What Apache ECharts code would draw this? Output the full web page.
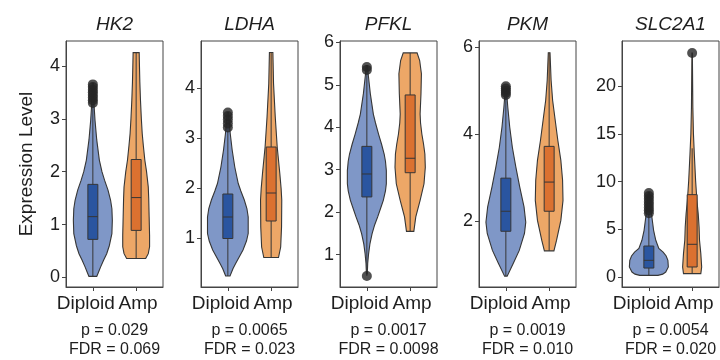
<!DOCTYPE html>
<html>
<head>
<meta charset="utf-8">
<script src="https://cdn.jsdelivr.net/npm/echarts@6/dist/echarts.min.js"></script>
<style>html,body{margin:0;padding:0;background:#fff}#c{width:720px;height:360px}</style>
</head>
<body>
<div id="c"></div>
<script>
// ---------- data ----------
const genes = ['HK2', 'LDHA', 'PFKL', 'PKM', 'SLC2A1'];
const groups = ['Diploid', 'Amp'];
const pTexts = ['p = 0.029', 'p = 0.0065', 'p = 0.0017', 'p = 0.0019', 'p = 0.0054'];
const fdrTexts = ['FDR = 0.069', 'FDR = 0.023', 'FDR = 0.0098', 'FDR = 0.010', 'FDR = 0.020'];
const yTicks = [[0, 1, 2, 3, 4], [1, 2, 3, 4], [1, 2, 3, 4, 5, 6], [2, 4, 6], [0, 5, 10, 15, 20]];
const yMins = [-0.18, 0.03, 0.24, 0.49, -1.05];
const yMaxs = [4.47, 4.95, 6.03, 6.14, 24.76];

// violin density profiles: [value, half-width (in category units)]
const hk2Diploid = [[0.02,0.09],[0.1,0.13],[0.2,0.18],[0.33,0.25],[0.45,0.32],[0.6,0.38],[0.83,0.44],[1.08,0.45],[1.3,0.44],[1.46,0.41],[1.65,0.35],[1.84,0.27],[2.0,0.21],[2.22,0.15],[2.6,0.09],[2.97,0.05],[3.23,0.03],[3.67,0.015]];
const hk2Amp = [[0.36,0.22],[0.45,0.28],[0.58,0.31],[0.8,0.31],[1.15,0.30],[1.5,0.29],[1.71,0.28],[2.0,0.24],[2.22,0.2],[2.5,0.165],[2.72,0.14],[3.0,0.12],[3.35,0.1],[3.7,0.085],[3.98,0.077],[4.25,0.07]];
const ldhaDiploid = [[0.25,0.05],[0.4,0.12],[0.5,0.18],[0.77,0.35],[0.95,0.43],[1.1,0.47],[1.43,0.47],[1.6,0.44],[1.77,0.38],[1.95,0.3],[2.1,0.24],[2.43,0.16],[2.77,0.1],[3.1,0.055],[3.3,0.035],[3.52,0.015]];
const ldhaAmp = [[0.62,0.17],[0.83,0.22],[1.23,0.24],[1.77,0.245],[2.0,0.23],[2.3,0.2],[2.83,0.14],[3.43,0.095],[4.1,0.055],[4.72,0.04]];
const pfklDiploid = [[0.55,0.01],[0.8,0.02],[1.02,0.04],[1.25,0.07],[1.49,0.12],[1.7,0.18],[1.89,0.25],[2.1,0.32],[2.28,0.38],[2.5,0.43],[2.67,0.45],[2.98,0.45],[3.2,0.43],[3.37,0.4],[3.6,0.34],[3.84,0.27],[4.1,0.2],[4.31,0.15],[4.79,0.08],[5.26,0.03],[5.45,0.015]];
const pfklAmp = [[1.55,0.085],[1.89,0.13],[2.28,0.23],[2.67,0.32],[3.06,0.35],[3.37,0.34],[3.6,0.31],[3.84,0.27],[4.1,0.24],[4.31,0.23],[4.79,0.25],[5.26,0.26],[5.57,0.22],[5.75,0.16]];
const pkmDiploid = [[0.74,0.03],[1.03,0.17],[1.33,0.31],[1.72,0.43],[1.98,0.46],[2.33,0.42],[2.79,0.32],[3.25,0.23],[3.7,0.15],[4.16,0.09],[4.62,0.045],[5.0,0.015]];
const pkmAmp = [[1.32,0.11],[1.56,0.17],[2.02,0.27],[2.48,0.32],[2.94,0.31],[3.4,0.27],[3.86,0.2],[4.32,0.14],[4.78,0.08],[5.24,0.045],[5.87,0.02]];
const slcDiploid = [[0.17,0.21],[0.3,0.32],[0.52,0.39],[1.05,0.45],[1.75,0.44],[2.2,0.4],[2.6,0.33],[3.0,0.23],[3.85,0.16],[4.9,0.11],[6.3,0.07],[7.3,0.045],[8.85,0.015]];
const slcAmp = [[0.35,0.2],[1.05,0.22],[2.45,0.2],[3.85,0.17],[5.24,0.16],[6.64,0.14],[8.0,0.11],[10.1,0.08],[12.9,0.05],[15.0,0.03],[17.8,0.016],[22,0.008],[23.5,0.005]];

// box stats: [whiskerLow, q1, median, q3, whiskerHigh]
const hk2Box = [[0.02,0.72,1.15,1.76,3.28],[0.36,0.89,1.51,2.23,4.25]];
const ldhaBox = [[0.25,1.0,1.43,1.89,3.15],[0.62,1.35,1.91,2.83,4.72]];
const pfklBox = [[0.5,2.36,2.9,3.55,5.3],[1.55,2.93,3.27,4.76,5.75]];
const pkmBox = [[0.74,1.77,2.23,2.99,4.85],[1.32,2.23,2.9,3.72,5.87]];
const slcBox = [[0.17,0.94,1.75,3.25,6.6],[0.35,1.05,3.43,8.64,13.5]];

// outliers per group
const hk2Out = [[3.3,3.35,3.4,3.45,3.5,3.55,3.6,3.65],[]];
const ldhaOut = [[3.22,3.3,3.38,3.45,3.52],[]];
const pfklOut = [[0.5,5.35,5.42],[]];
const pkmOut = [[4.9,4.95,5.0,5.05,5.1],[]];
const slcOut = [[6.7,7.0,7.3,7.6,7.9,8.2,8.5,8.8],[23.5]];

const violins = [[hk2Diploid,hk2Amp],[ldhaDiploid,ldhaAmp],[pfklDiploid,pfklAmp],[pkmDiploid,pkmAmp],[slcDiploid,slcAmp]];
const boxes = [hk2Box, ldhaBox, pfklBox, pkmBox, slcBox];
const outliers = [hk2Out, ldhaOut, pfklOut, pkmOut, slcOut];

// ---------- style / layout ----------
const violinColors = ['#7f97c7', '#eda767'];
const boxColors = ['#2a55a0', '#db7130'];
const edge = '#363636';
const txt = '#1e1e1e';
const FONT = 'Liberation Sans, Arial, sans-serif';
const lefts = [66, 201, 340, 479, 622];
const gTop = 41, gW = 97, gH = 246;

function violinRender(i) {
  return function (params, api) {
    const g = params.dataIndex;
    const prof = violins[i][g];
    const pts = [];
    prof.forEach(p => pts.push(api.coord([g - p[1], p[0]])));
    for (let k = prof.length - 1; k >= 0; k--) pts.push(api.coord([g + prof[k][1], prof[k][0]]));
    return { type: 'polygon', shape: { points: pts }, style: { fill: violinColors[g], stroke: edge, lineWidth: 1.1 } };
  };
}
function boxRender(i) {
  return function (params, api) {
    const g = params.dataIndex;
    const b = boxes[i][g];
    const w = 0.115;
    const lo = api.coord([g, b[0]]), hi = api.coord([g, b[4]]);
    const a = api.coord([g - w, b[3]]), c = api.coord([g + w, b[1]]);
    const m1 = api.coord([g - w, b[2]]), m2 = api.coord([g + w, b[2]]);
    return { type: 'group', children: [
      { type: 'line', shape: { x1: lo[0], y1: lo[1], x2: hi[0], y2: hi[1] }, style: { stroke: edge, lineWidth: 1 } },
      { type: 'rect', shape: { x: a[0], y: a[1], width: c[0] - a[0], height: c[1] - a[1] }, style: { fill: boxColors[g], stroke: edge, lineWidth: 1 } },
      { type: 'line', shape: { x1: m1[0], y1: m1[1], x2: m2[0], y2: m2[1] }, style: { stroke: edge, lineWidth: 1 } }
    ] };
  };
}

const grid = [], xAxis = [], yAxis = [], series = [], graphic = [];
genes.forEach((gene, i) => {
  grid.push({ left: lefts[i], top: gTop, width: gW, height: gH, show: true, borderColor: '#444', borderWidth: 1, backgroundColor: 'transparent' });
  xAxis.push({
    type: 'value', gridIndex: i, min: -0.62, max: 1.62,
    splitLine: { show: false },
    axisLine: { show: true, onZero: false, lineStyle: { color: '#444', width: 1 } },
    axisTick: { show: true, length: 4, lineStyle: { color: '#444' }, customValues: [0, 1] },
    axisLabel: {
      customValues: [0, 1], margin: 7, fontSize: 19, color: txt, fontFamily: FONT,
      formatter: v => v === 0 ? '{d|' + groups[0] + '}' : '{a|' + groups[1] + '}',
      rich: {
        d: { fontSize: 19, color: txt, fontFamily: FONT, padding: [0, 14, 0, 0] },
        a: { fontSize: 19, color: txt, fontFamily: FONT, padding: [0, 0, 0, 4] }
      }
    }
  });
  yAxis.push({
    type: 'value', gridIndex: i, min: yMins[i], max: yMaxs[i],
    splitLine: { show: false },
    axisLine: { show: true, onZero: false, lineStyle: { color: '#444', width: 1 } },
    axisTick: { show: true, length: 4, lineStyle: { color: '#444' }, customValues: yTicks[i] },
    axisLabel: { customValues: yTicks[i], margin: 6, fontSize: 18, color: txt, fontFamily: FONT },
    name: i === 0 ? 'Expression Level' : '',
    nameLocation: 'middle', nameGap: 30, nameRotate: 90,
    nameTextStyle: { fontSize: 19, color: txt, fontFamily: FONT }
  });
  series.push({
    type: 'custom', xAxisIndex: i, yAxisIndex: i, z: 2, silent: true,
    renderItem: violinRender(i),
    data: groups.map((_, g) => [g, boxes[i][g][2]])
  });
  series.push({
    type: 'custom', xAxisIndex: i, yAxisIndex: i, z: 3, silent: true,
    renderItem: boxRender(i),
    data: groups.map((_, g) => [g, boxes[i][g][2]])
  });
  const od = [];
  outliers[i].forEach((arr, g) => arr.forEach(v => od.push([g, v])));
  series.push({
    type: 'scatter', xAxisIndex: i, yAxisIndex: i, z: 4, silent: true,
    symbolSize: 10, itemStyle: { color: '#262626' },
    data: od
  });
  const cx = lefts[i] + gW / 2;
  graphic.push({ type: 'text', x: cx, y: 25, style: { text: gene, fontSize: 19, fontStyle: 'italic', fontFamily: FONT, fill: txt, align: 'center', verticalAlign: 'middle' } });
  graphic.push({ type: 'text', x: cx, y: 331, style: { text: pTexts[i], fontSize: 16, fontFamily: FONT, fill: txt, align: 'center', verticalAlign: 'middle' } });
  graphic.push({ type: 'text', x: cx, y: 350, style: { text: fdrTexts[i], fontSize: 16, fontFamily: FONT, fill: txt, align: 'center', verticalAlign: 'middle' } });
});

const chart = echarts.init(document.getElementById('c'), null, { renderer: 'canvas' });
chart.setOption({ animation: false, backgroundColor: '#fff', grid, xAxis, yAxis, series, graphic });
</script>
</body>
</html>
